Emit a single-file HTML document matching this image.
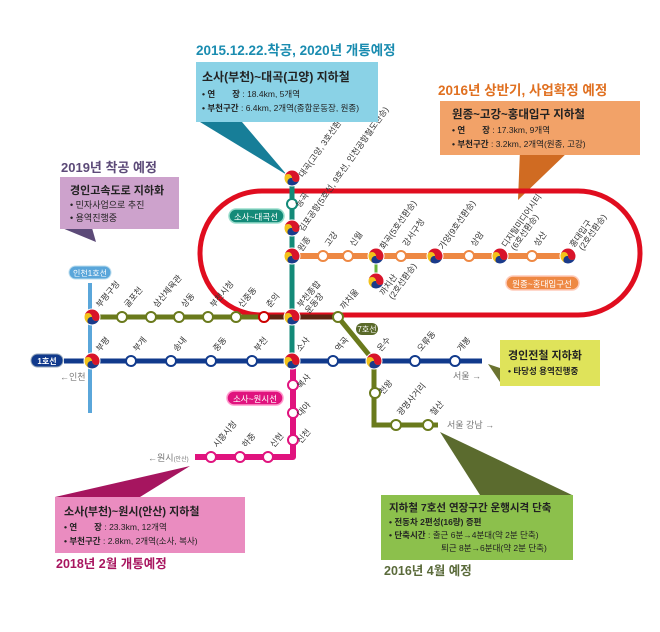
<!DOCTYPE html>
<html><head><meta charset="utf-8"><style>
body{margin:0;background:#fff}
svg{display:block;font-family:"Liberation Sans","Noto Sans CJK KR",sans-serif}
.l{font-size:8.5px;fill:#333}
.b{font-weight:bold}
</style></head><body>
<svg width="660" height="632" viewBox="0 0 660 632" xmlns="http://www.w3.org/2000/svg">
<defs>
<g id="t">
<circle r="8" fill="#f2c21a"/>
<path d="M-8,0 A8,8 0 0 1 8,0 A4,4 0 0 1 0,0 A4,4 0 0 0 -8,0Z" fill="#d8142a"/>
<path d="M8,0 A8,8 0 0 1 -2,7.7 A4,4 0 0 1 0,0 A4,4 0 0 0 8,0Z" fill="#1a3a8a"/>
<circle r="8" fill="none" stroke="#fff" stroke-width="1"/>
</g>
</defs>

<polygon points="200,122 242,122 287,175" fill="#177e98"/>
<polygon points="520,150 570,150 518,200" fill="#d06b22"/>
<polygon points="62,228 92,228 96,242" fill="#5c4a78"/>
<polygon points="500,368 500,382 488,364" fill="#6b7330"/>
<polygon points="440,432 480,495 572,495" fill="#5b6b2e"/>
<polygon points="190,466 55,497 140,497" fill="#a6155f"/>

<rect x="200" y="191" width="440" height="124" rx="62" fill="none" stroke="#e00d1f" stroke-width="5"/>

<line x1="90" y1="283" x2="90" y2="413" stroke="#5aa6da" stroke-width="4"/>
<line x1="64" y1="361" x2="482" y2="361" stroke="#113a8c" stroke-width="5"/>
<polyline points="92,317 338,317 374,361 374,425 438,425" fill="none" stroke="#6a7a1c" stroke-width="5"/>
<line x1="264" y1="317" x2="338" y2="317" stroke="#5a1010" stroke-width="5" opacity=".8"/>
<line x1="292" y1="178" x2="292" y2="361" stroke="#138a78" stroke-width="5"/>
<polyline points="293,361 293,457 195,457" fill="none" stroke="#e0137e" stroke-width="6" stroke-linejoin="round"/>
<line x1="292" y1="256" x2="568" y2="256" stroke="#ee8843" stroke-width="6"/>
<line x1="376" y1="256" x2="376" y2="281" stroke="#6ab43a" stroke-width="3"/>

<g fill="#fff" stroke-width="2">
<g stroke="#6a7a1c">
<circle cx="122" cy="317" r="5"/><circle cx="151" cy="317" r="5"/><circle cx="179" cy="317" r="5"/><circle cx="208" cy="317" r="5"/><circle cx="236" cy="317" r="5"/><circle cx="264" cy="317" r="5" stroke="#c00"/><circle cx="338" cy="317" r="5"/><circle cx="375" cy="393" r="5"/><circle cx="396" cy="425" r="5"/><circle cx="428" cy="425" r="5"/>
</g>
<g stroke="#113a8c">
<circle cx="131" cy="361" r="5"/><circle cx="171" cy="361" r="5"/><circle cx="211" cy="361" r="5"/><circle cx="252" cy="361" r="5"/><circle cx="333" cy="361" r="5"/><circle cx="415" cy="361" r="5"/><circle cx="455" cy="361" r="5"/>
</g>
<g stroke="#e0137e">
<circle cx="293" cy="385" r="5"/><circle cx="293" cy="413" r="5"/><circle cx="293" cy="440" r="5"/><circle cx="268" cy="457" r="5"/><circle cx="240" cy="457" r="5"/><circle cx="211" cy="457" r="5"/>
</g>
<g stroke="#ee8843">
<circle cx="323" cy="256" r="5"/><circle cx="348" cy="256" r="5"/><circle cx="401" cy="256" r="5"/><circle cx="469" cy="256" r="5"/><circle cx="532" cy="256" r="5"/>
</g>
<circle cx="292" cy="204" r="5" stroke="#138a78"/>
</g>
<use href="#t" x="92" y="317"/><use href="#t" x="92" y="361"/><use href="#t" x="292" y="317"/><use href="#t" x="292" y="361"/><use href="#t" x="374" y="361"/>
<use href="#t" x="292" y="178"/><use href="#t" x="292" y="228"/><use href="#t" x="292" y="256"/>
<use href="#t" x="376" y="256"/><use href="#t" x="435" y="256"/><use href="#t" x="500" y="256"/><use href="#t" x="568" y="256"/><use href="#t" x="376" y="281"/>

<g class="l">
<text transform="translate(100,308) rotate(-50)">부평구청</text>
<text transform="translate(128,308) rotate(-50)">굴포천</text>
<text transform="translate(157,308) rotate(-50)">삼산체육관</text>
<text transform="translate(185,308) rotate(-50)">상동</text>
<text transform="translate(214,308) rotate(-50)">부천시청</text>
<text transform="translate(242,308) rotate(-50)">신중동</text>
<text transform="translate(270,308) rotate(-50)">춘의</text>
<text transform="translate(301,308) rotate(-50)">부천종합</text>
<text transform="translate(309,314) rotate(-50)">운동장</text>
<text transform="translate(344,310) rotate(-50)">까치울</text>
<text transform="translate(100,352) rotate(-50)">부평</text>
<text transform="translate(137,352) rotate(-50)">부개</text>
<text transform="translate(177,352) rotate(-50)">송내</text>
<text transform="translate(217,352) rotate(-50)">중동</text>
<text transform="translate(258,352) rotate(-50)">부천</text>
<text transform="translate(300,352) rotate(-50)">소사</text>
<text transform="translate(339,352) rotate(-50)">역곡</text>
<text transform="translate(381,352) rotate(-50)">온수</text>
<text transform="translate(421,352) rotate(-50)">오류동</text>
<text transform="translate(461,352) rotate(-50)">개봉</text>
<text transform="translate(383,395) rotate(-50)">천왕</text>
<text transform="translate(401,416) rotate(-50)">광명사거리</text>
<text transform="translate(434,416) rotate(-50)">철산</text>
<text transform="translate(301,389) rotate(-50)">복사</text>
<text transform="translate(301,417) rotate(-50)">대야</text>
<text transform="translate(301,444) rotate(-50)">신천</text>
<text transform="translate(274,448) rotate(-50)">신현</text>
<text transform="translate(246,448) rotate(-50)">하중</text>
<text transform="translate(217,448) rotate(-50)">시흥시청</text>
<text transform="translate(303,178) rotate(-55)">대곡(고양, 3호선환승)</text>
<text transform="translate(300,208) rotate(-55)">능곡</text>
<text transform="translate(303,232) rotate(-55)">김포공항(5호선, 9호선, 인천공항철도환승)</text>
<text transform="translate(302,252) rotate(-55)">원종</text>
<text transform="translate(329,247) rotate(-55)">고강</text>
<text transform="translate(354,247) rotate(-55)">신월</text>
<text transform="translate(384,250) rotate(-55)">화곡(5호선환승)</text>
<text transform="translate(407,247) rotate(-55)">강서구청</text>
<text transform="translate(443,250) rotate(-55)">가양(9호선환승)</text>
<text transform="translate(475,247) rotate(-55)">상암</text>
<text transform="translate(506,248) rotate(-55)">디지털미디어시티</text>
<text transform="translate(515,251) rotate(-55)">(6호선환승)</text>
<text transform="translate(538,247) rotate(-55)">성산</text>
<text transform="translate(574,248) rotate(-55)">홍대입구</text>
<text transform="translate(583,251) rotate(-55)">(2호선환승)</text>
<text transform="translate(384,296) rotate(-55)">까치산</text>
<text transform="translate(393,300) rotate(-55)">(2호선환승)</text>
</g>
<g font-size="9" fill="#777">
<text x="60" y="380">←인천</text>
<text x="453" y="379">서울 →</text>
<text x="447" y="428">서울 강남 →</text>
<text x="148" y="461">←원시<tspan font-size="6">(안산)</tspan></text>
</g>

<rect x="31" y="354" width="32" height="13" rx="6.5" fill="#113a8c" stroke="#9ab" stroke-width="1"/>
<text x="47" y="364" font-size="8" fill="#fff" text-anchor="middle" class="b">1호선</text>
<rect x="69" y="266" width="42" height="13" rx="6.5" fill="#5aa6da" stroke="#bde" stroke-width="1"/>
<text x="90" y="276" font-size="8" fill="#fff" text-anchor="middle">인천1호선</text>
<rect x="229" y="209" width="55" height="14" rx="7" fill="#138a78" stroke="#9dc" stroke-width="1.5"/>
<text x="256" y="220" font-size="8.5" fill="#fff" text-anchor="middle">소사~대곡선</text>
<rect x="227" y="391" width="56" height="14" rx="7" fill="#e0137e" stroke="#f9c" stroke-width="1.5"/>
<text x="255" y="402" font-size="8.5" fill="#fff" text-anchor="middle">소사~원시선</text>
<rect x="506" y="276" width="73" height="14" rx="7" fill="#ee8843" stroke="#fcb" stroke-width="1.5"/>
<text x="542" y="287" font-size="8.5" fill="#fff" text-anchor="middle">원종~홍대입구선</text>
<rect x="356" y="323" width="22" height="12" rx="6" fill="#5a6a2a"/>
<text x="367" y="332" font-size="8" fill="#fff" text-anchor="middle">7호선</text>

<text x="196" y="55" font-size="13.5" class="b" fill="#1a8cb0">2015.12.22.착공, 2020년 개통예정</text>
<rect x="196" y="62" width="182" height="60" fill="#8ad2e6"/>
<text x="202" y="81" font-size="12" class="b" fill="#222">소사(부천)~대곡(고양) 지하철</text>
<text x="202" y="97" font-size="8.5" fill="#222"><tspan class="b">• 연　　장</tspan> : 18.4km, 5개역</text>
<text x="202" y="111" font-size="8.5" fill="#222"><tspan class="b">• 부천구간</tspan> : 6.4km, 2개역(종합운동장, 원종)</text>

<text x="438" y="95" font-size="13.5" class="b" fill="#e07020">2016년 상반기, 사업확정 예정</text>
<rect x="440" y="101" width="200" height="54" fill="#f2a268"/>
<text x="452" y="118" font-size="11.5" class="b" fill="#222">원종~고강~홍대입구 지하철</text>
<text x="452" y="133" font-size="8.5" fill="#222"><tspan class="b">• 연　　장</tspan> : 17.3km, 9개역</text>
<text x="452" y="147" font-size="8.5" fill="#222"><tspan class="b">• 부천구간</tspan> : 3.2km, 2개역(원종, 고강)</text>

<text x="61" y="172" font-size="13" class="b" fill="#5c4a78">2019년 착공 예정</text>
<rect x="60" y="177" width="119" height="52" fill="#cda2cc"/>
<text x="70" y="194" font-size="11" class="b" fill="#222">경인고속도로 지하화</text>
<text x="70" y="208" font-size="9" fill="#222">• 민자사업으로 추진</text>
<text x="70" y="221" font-size="9" fill="#222">• 용역진행중</text>

<rect x="500" y="340" width="100" height="46" fill="#dfe35a"/>
<text x="508" y="359" font-size="11" class="b" fill="#222">경인전철 지하화</text>
<text x="508" y="374" font-size="8.5" class="b" fill="#222">• 타당성 용역진행중</text>

<rect x="381" y="495" width="192" height="65" fill="#8cc04c"/>
<text x="389" y="511" font-size="10.5" class="b" fill="#222">지하철 7호선 연장구간 운행시격 단축</text>
<text x="389" y="525" font-size="8.5" class="b" fill="#222">• 전동차 2편성(16량) 증편</text>
<text x="389" y="538" font-size="8.5" fill="#222"><tspan class="b">• 단축시간</tspan> : 출근 6분→4분대(약 2분 단축)</text>
<text x="441" y="551" font-size="8.5" fill="#222">퇴근 8분→6분대(약 2분 단축)</text>
<text x="384" y="575" font-size="12.5" class="b" fill="#5a6a3a">2016년 4월 예정</text>

<rect x="55" y="497" width="190" height="56" fill="#ea8cc0"/>
<text x="64" y="515" font-size="11" class="b" fill="#222">소사(부천)~원시(안산) 지하철</text>
<text x="64" y="530" font-size="8.5" fill="#222"><tspan class="b">• 연　　장</tspan> : 23.3km, 12개역</text>
<text x="64" y="544" font-size="8.5" fill="#222"><tspan class="b">• 부천구간</tspan> : 2.8km, 2개역(소사, 복사)</text>
<text x="56" y="568" font-size="12.5" class="b" fill="#a8155f">2018년 2월 개통예정</text>
</svg>
</body></html>
